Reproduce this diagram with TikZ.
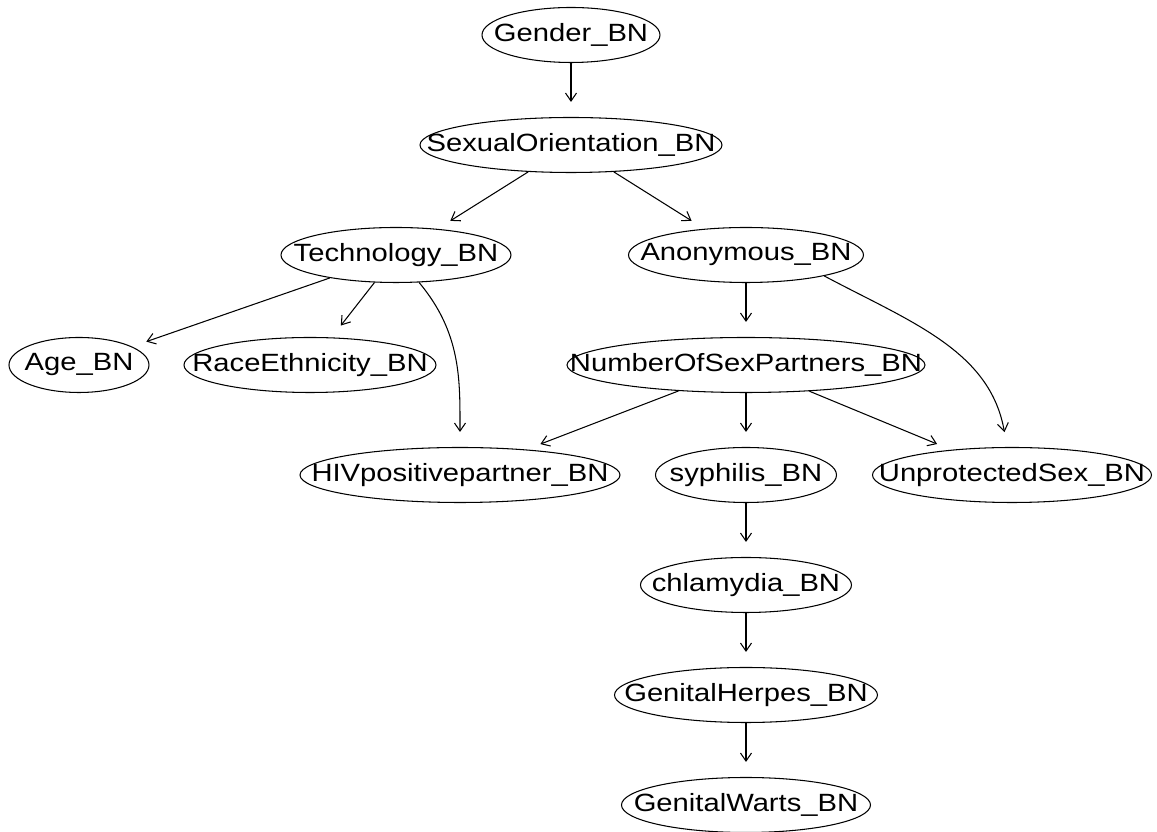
\documentclass[tikz,border=0pt]{standalone}
\usepackage{fontspec}
\setmainfont{Liberation Sans}
\usepackage{graphicx}
\usetikzlibrary{shapes.geometric, positioning, arrows.meta}
\newcommand{\bnname}[1]{\makebox[0pt]{\scalebox{1.17}[1]{#1}}}

\begin{document}
\begin{tikzpicture}[node distance=2.2cm, on grid, line width=0.6pt,
    >={Straight Barb[length=1.6mm, width=2.2mm]}, shorten >=0.3cm]
      \tikzstyle{bn}=[ellipse, draw, inner sep=0pt, minimum height=1.1cm, font=\fontsize{14.2}{17}\selectfont]
      \useasboundingbox (-11.42,0.7) rectangle (11.72,-15.94);

      % Nodes
      \node[bn, minimum width=3.56cm]  (gender) {\bnname{Gender\_BN}};
      \node[bn, minimum width=6.04cm]  (sexor)  [below=of gender] {\bnname{SexualOrientation\_BN}};
      \node[bn, minimum width=4.6cm]   (tech)   [below=of sexor, xshift=-3.5cm] {\bnname{Technology\_BN}};
      \node[bn, minimum width=4.7cm]   (anon)   [below=of sexor, xshift=3.5cm] {\bnname{Anonymous\_BN}};
      \node[bn, minimum width=2.8cm]   (age)    [below=of tech, xshift=-6.34cm] {\bnname{Age\_BN}};
      \node[bn, minimum width=5.04cm]  (race)   [below=of tech, xshift=-1.72cm] {\bnname{RaceEthnicity\_BN}};
      \node[bn, minimum width=7.16cm]  (numsex) [below=of anon] {\bnname{NumberOfSexPartners\_BN}};
      \node[bn, minimum width=6.4cm]   (hiv)    [below=of numsex, xshift=-5.72cm] {\bnname{HIVpositivepartner\_BN}};
      \node[bn, minimum width=3.62cm]  (syph)   [below=of numsex] {\bnname{syphilis\_BN}};
      \node[bn, minimum width=5.58cm]  (unprot) [below=of numsex, xshift=5.32cm] {\bnname{UnprotectedSex\_BN}};
      \node[bn, minimum width=4.22cm]  (chlam)  [below=of syph] {\bnname{chlamydia\_BN}};
      \node[bn, minimum width=5.26cm]  (herpes) [below=of chlam] {\bnname{GenitalHerpes\_BN}};
      \node[bn, minimum width=4.98cm]  (warts)  [below=of herpes] {\bnname{GenitalWarts\_BN}};

      % Edges
      \path[->]
        (gender) edge (sexor)
        (sexor)  edge (tech)
                 edge (anon)
        (tech)   edge (age)
                 edge (race)
                 edge[out=-50, in=90] (hiv)
        (anon)   edge (numsex)
        (numsex) edge (hiv)
                 edge (syph)
                 edge (unprot)
        (syph)   edge (chlam)
        (chlam)  edge (herpes)
        (herpes) edge (warts);
      \path[->] (anon.-15) edge[out=-28, in=100] (unprot);
    \end{tikzpicture}
\end{document}
